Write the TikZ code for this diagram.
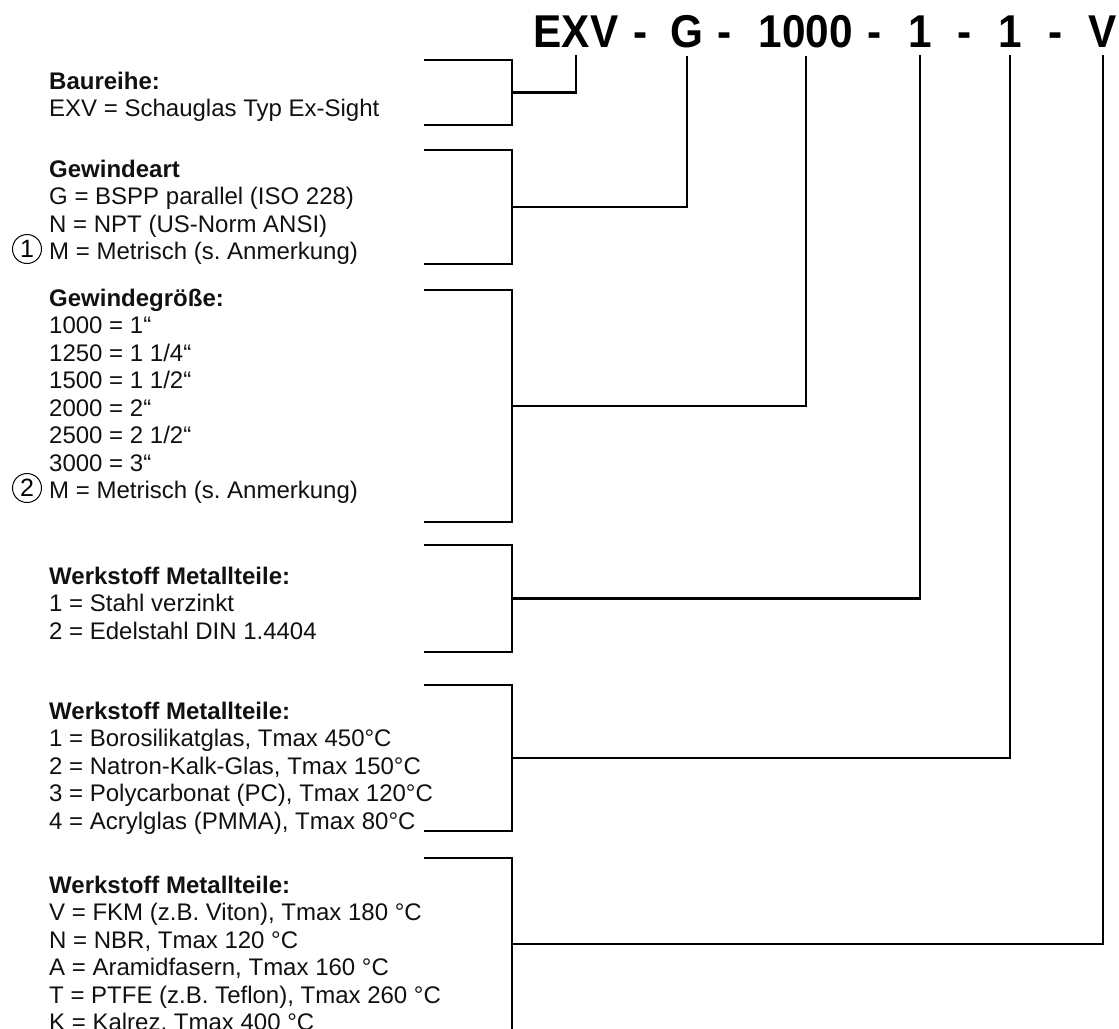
\documentclass[tikz,border=0pt]{standalone}
\usepackage{fontspec}
\setmainfont{Liberation Sans}
\newfontfamily\codefont[FakeStretch=0.92]{Liberation Sans}
\usepackage{xcolor}
\usepackage{tikz}
\usetikzlibrary{positioning}
\definecolor{CodeBlack}{HTML}{000000}
\definecolor{ListText} {HTML}{111111}
\frenchspacing

\tikzset{
  legend/.style={anchor=north west,inner sep=0pt,align=left,text=ListText,
                 font=\fontsize{24}{27.5}\selectfont},
  codepart/.style={anchor=base,inner xsep=0pt,inner ysep=8pt,text=CodeBlack,
                   font=\codefont\bfseries\fontsize{46}{50}\selectfont},
  bracket/.style={draw=CodeBlack,line width=2.6pt},
  circled/.style={circle,draw=CodeBlack,line width=1pt,minimum size=29pt,inner sep=0pt,
                  font=\fontsize{25}{25}\selectfont}
}

\begin{document}
\begin{tikzpicture}[x=1pt,y=-1pt]
    \useasboundingbox (0,0) rectangle (1119,1028);

    \node[codepart] (cEXV)  at (576,47)   {EXV};
    \node[codepart] (dash1) at (640.5,47) {-};
    \node[codepart] (cG)    at (687,47)   {G};
    \node[codepart] (dash2) at (725,47)   {-};
    \node[codepart] (cSize) at (806,47)   {1000};
    \node[codepart] (dash3) at (874.5,47) {-};
    \node[codepart] (cMetal)at (920,47)   {1};
    \node[codepart] (dash4) at (965,47)   {-};
    \node[codepart] (cGlass)at (1010,47)  {1};
    \node[codepart] (dash5) at (1055.5,47){-};
    \node[codepart] (cSeal) at (1103,47)  {V};

    \node[legend] (baureihe) at (49,71.5) {%
      \textbf{Baureihe:}\\
      EXV = Schauglas Typ Ex-Sight};
    \node[legend] (gewindeart) at (49,159.5) {%
      \textbf{Gewindeart}\\
      G = BSPP parallel (ISO 228)\\
      N = NPT (US-Norm ANSI)\\
      M = Metrisch (s. Anmerkung)};
    \node[legend] (gewindegroesse) at (49,288.5) {%
      \textbf{Gewindegröße:}\\
      1000 = 1“\\
      1250 = 1 1/4“\\
      1500 = 1 1/2“\\
      2000 = 2“\\
      2500 = 2 1/2“\\
      3000 = 3“\\
      M = Metrisch (s. Anmerkung)};
    \node[legend] (metall) at (49,566.5) {%
      \textbf{Werkstoff Metallteile:}\\
      1 = Stahl verzinkt\\
      2 = Edelstahl DIN 1.4404};
    \node[legend] (glas) at (49,701.5) {%
      \textbf{Werkstoff Metallteile:}\\
      1 = Borosilikatglas, Tmax 450°C\\
      2 = Natron-Kalk-Glas, Tmax 150°C\\
      3 = Polycarbonat (PC), Tmax 120°C\\
      4 = Acrylglas (PMMA), Tmax 80°C};
    \node[legend] (dichtung) at (49,875.5) {%
      \textbf{Werkstoff Metallteile:}\\
      V = FKM (z.B. Viton), Tmax 180 °C\\
      N = NBR, Tmax 120 °C\\
      A = Aramidfasern, Tmax 160 °C\\
      T = PTFE (z.B. Teflon), Tmax 260 °C\\
      K = Kalrez, Tmax 400 °C};

    \node[circled] (note1) at (27,249) {1};
    \node[circled] (note2) at (27,488) {2};

    \foreach \top/\bot/\part in {60/125/cEXV,150/264/cG,290/522/cSize,
                                 545/652/cMetal,685/831/cGlass,858/1030/cSeal}{
      \draw[bracket] (424,\top) -| (512,\bot) -- (424,\bot);
      \draw[bracket] (512,{(\top+\bot)/2}) -| (\part.south);
    }
  \end{tikzpicture}
\end{document}
